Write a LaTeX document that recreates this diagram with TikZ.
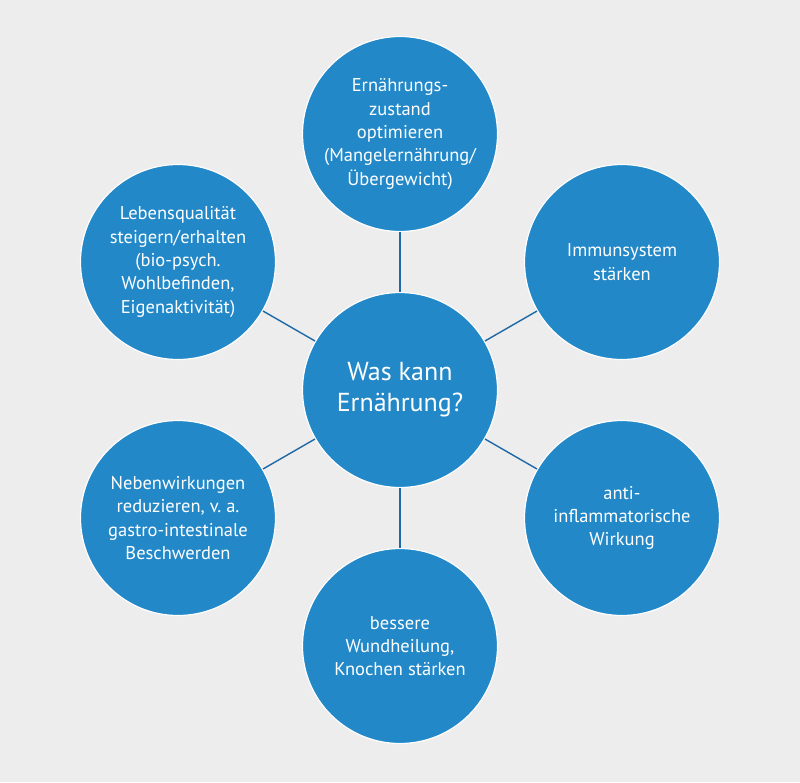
\documentclass[tikz,border=0pt]{standalone}
\usepackage{fontspec}
\setmainfont{PT Sans}
\usepackage{tikz}

\definecolor{bgGray}{RGB}{237,237,237}
\definecolor{bubbleBlue}{RGB}{34,136,200}
\definecolor{spokeBlue}{RGB}{30,104,165}

\tikzset{
  bubble/.style={circle, draw=white, line width=1.2, fill=bubbleBlue, text=white,
    minimum size=195, inner sep=0, align=center,
    font=\fontsize{18.5}{23.3}\selectfont},
  spoke/.style={draw=spokeBlue, line width=1.4}
}

\begin{document}
\begin{tikzpicture}[x=1pt,y=1pt,yscale=-1,xscale=1]
%set diagram left start at 0, and has height of 782
\fill [bgGray] (0,0) rectangle (800,782);
\useasboundingbox (0,0) rectangle (800,782);

% Centre Node
\node [bubble, font=\fontsize{26}{31}\selectfont] (hub) at (400,390) {Was kann\\Ernährung?};

% Outer Nodes
\node [bubble] (ernst) at (400,134) {Ernährungs-\\zustand\\optimieren\\(Mangelernährung/\\Übergewicht)};
\node [bubble] (immun) at (622,262) {Immunsystem\\stärken};
\node [bubble] (entz) at (622,518) {anti-\\inflammatorische\\Wirkung};
\node [bubble] (wund) at (400,646) {bessere\\Wundheilung,\\Knochen stärken};
\node [bubble] (neben) at (178,518) {Nebenwirkungen\\reduzieren, v.\ a.\\gastro-intestinale\\Beschwerden};
\node [bubble] (leben) at (178,262) {Lebensqualität\\steigern/erhalten\\(bio-psych.\\Wohlbefinden,\\Eigenaktivität)};

% Spokes
\draw [spoke] (hub) -- (ernst) ;
\draw [spoke] (hub) -- (immun) ;
\draw [spoke] (hub) -- (entz) ;
\draw [spoke] (hub) -- (wund) ;
\draw [spoke] (hub) -- (neben) ;
\draw [spoke] (hub) -- (leben) ;

\end{tikzpicture}
\end{document}
